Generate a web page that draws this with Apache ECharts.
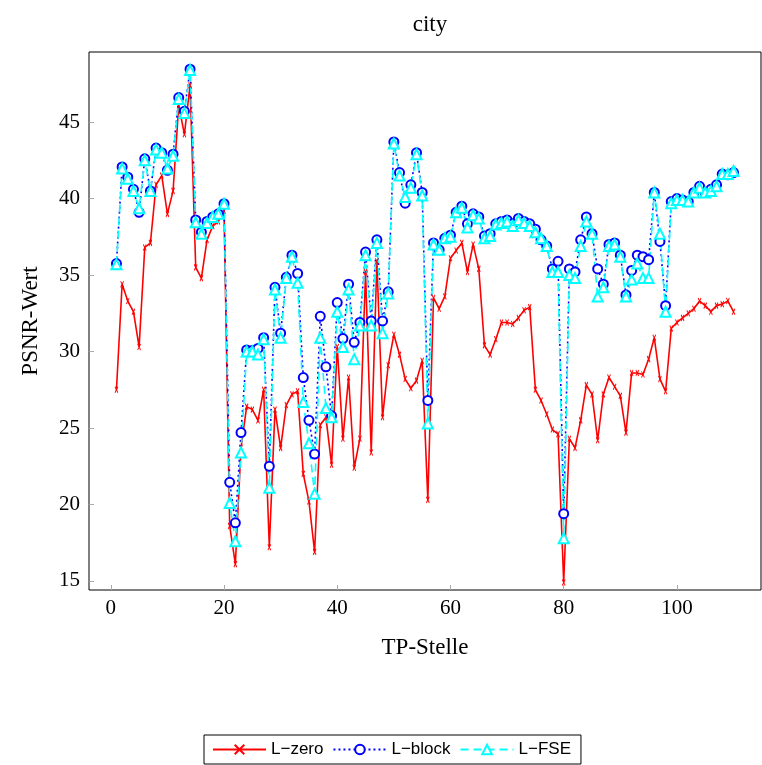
<!DOCTYPE html>
<html lang="de">
<head>
    <meta charset="UTF-8">
    <title>city</title>
    <script src="https://cdn.jsdelivr.net/npm/echarts@6.0.0/dist/echarts.min.js"></script>
    <style>
        html,body{margin:0;padding:0;background:#fff}
        #main{width:762px;height:765px}
    </style>
</head>
<body>
<div id="main"></div>
<script>
    // TP-Stelle 1..110
    var lZero = [27.5,34.4,33.3,32.6,30.3,36.8,37.1,40.9,41.5,39.0,
        40.5,46.1,44.2,47.4,35.5,34.8,37.3,38.2,38.5,39.2,
        18.6,16.1,23.7,26.4,26.2,25.5,27.5,17.2,26.2,23.7,
        26.5,27.2,27.4,22.0,20.2,16.9,25.2,25.7,22.6,30.3,
        24.3,28.3,22.4,24.3,35.2,23.4,35.9,25.7,29.1,31.1,
        29.8,28.2,27.6,28.1,29.4,20.3,33.5,32.8,33.6,36.1,
        36.6,37.1,35.2,37.0,35.4,30.4,29.8,30.8,31.9,31.9,
        31.8,32.2,32.7,32.9,27.5,26.8,25.9,24.9,24.6,14.9,
        24.3,23.7,25.5,27.8,27.2,24.2,27.2,28.3,27.7,27.1,
        24.7,28.6,28.6,28.5,29.5,30.9,28.2,27.4,31.5,31.9,
        32.2,32.5,32.8,33.3,33.0,32.6,33.0,33.1,33.3,32.6];
    var lBlock = [35.75,42.07,41.4,40.6,39.1,42.6,40.5,43.3,43.0,41.85,
        42.9,46.6,45.7,48.46,38.6,37.8,38.5,38.8,39.0,39.66,
        21.45,18.8,24.7,30.1,30.06,30.2,30.9,22.5,34.2,31.2,
        34.85,36.3,35.1,28.3,25.5,23.3,32.3,29.0,25.8,33.2,
        30.85,34.4,30.6,31.9,36.5,32.0,37.3,32.0,33.9,43.7,
        41.7,39.7,40.9,43.0,40.4,26.8,37.1,36.65,37.4,37.6,
        39.1,39.5,38.35,39.0,38.8,37.55,37.7,38.35,38.5,38.6,
        38.35,38.7,38.5,38.35,38.0,37.3,36.9,35.4,35.9,19.4,
        35.4,35.2,37.3,38.8,37.7,35.4,34.4,37.0,37.1,36.3,
        33.7,35.3,36.3,36.2,36.0,40.4,37.2,33.0,39.8,40.0,
        39.9,39.8,40.4,40.8,40.4,40.6,40.9,41.6,41.55,41.7];
    var lFSE = [35.7,41.96,41.3,40.5,39.36,42.5,40.5,43.2,43.0,41.96,
        42.8,46.5,45.6,48.4,38.45,37.7,38.4,38.8,39.0,39.66,
        20.1,17.6,23.4,30.0,30.0,29.8,30.8,21.1,34.05,30.9,
        34.8,36.2,34.5,26.7,24.0,20.7,30.9,26.3,25.7,32.6,
        30.3,34.05,29.5,31.7,36.3,31.7,37.1,31.2,33.8,43.6,
        41.5,40.1,40.7,42.9,40.2,25.3,37.0,36.65,37.4,37.5,
        39.1,39.4,38.1,38.9,38.7,37.4,37.55,38.3,38.4,38.5,
        38.2,38.6,38.4,38.2,37.8,37.4,36.9,35.2,35.2,17.8,
        35.0,34.8,36.9,38.5,37.7,33.6,34.2,36.9,37.0,36.2,
        33.6,34.7,35.75,34.8,34.8,40.4,37.7,32.6,39.7,39.9,
        39.9,39.8,40.4,40.7,40.4,40.5,40.8,41.6,41.6,41.8];
    var xTicks = [0,20,40,60,80,100];
    var yTicks = [15,20,25,30,35,40,45];

    function pairs(arr){
        var out = [];
        for (var i = 0; i < arr.length; i++) out.push([i + 1, arr[i]]);
        return out;
    }

    var serif = 'Liberation Serif';
    var myChart = echarts.init(document.getElementById('main'));
    myChart.setOption({
        animation: false,
        title: {
            text: 'city', left: 425, top: 8, textAlign: 'center',
            textStyle: {fontFamily: serif, fontSize: 23, fontWeight: 'normal', color: '#000'}
        },
        legend: {
            bottom: 1, left: 204,
            borderColor: '#000', borderWidth: 1, padding: [6, 10, 6, 8],
            itemWidth: 53, itemHeight: 12, itemGap: 9,
            textStyle: {fontFamily: 'Liberation Sans', fontSize: 17, color: '#000'},
            data: ['L\u2212zero', 'L\u2212block', 'L\u2212FSE']
        },
        grid: {
            left: 89, right: 1, top: 52, bottom: 175,
            show: true, borderColor: '#000', borderWidth: 1
        },
        xAxis: {
            type: 'value', min: -3.85, max: 114.85,
            name: 'TP-Stelle', nameLocation: 'middle', nameGap: 46,
            nameTextStyle: {fontFamily: serif, fontSize: 23, color: '#000'},
            axisLine: {show: false, onZero: false},
            axisTick: {inside: true, length: 5, lineStyle: {color: '#aaa'}, customValues: xTicks},
            axisLabel: {fontFamily: serif, fontSize: 21, color: '#000', margin: 8, customValues: xTicks},
            splitLine: {show: false}
        },
        yAxis: {
            type: 'value', min: 14.41, max: 49.58,
            name: 'PSNR-Wert', nameLocation: 'middle', nameGap: 47, nameRotate: 90,
            nameTextStyle: {fontFamily: serif, fontSize: 23, color: '#000'},
            axisLine: {show: false, onZero: false},
            axisTick: {inside: true, length: 5, lineStyle: {color: '#aaa'}, customValues: yTicks},
            axisLabel: {fontFamily: serif, fontSize: 21, color: '#000', margin: 9, customValues: yTicks},
            splitLine: {show: false}
        },
        series: [
            {
                name: 'L\u2212zero', type: 'line', data: pairs(lZero),
                symbol: 'path://M0,0L2,8M2,0L0,8', symbolSize: [3, 6],
                itemStyle: {color: '#ff0000', borderColor: '#ff0000', borderWidth: 1.1},
                lineStyle: {color: '#ff0000', width: 1.6}
            },
            {
                name: 'L\u2212block', type: 'line', data: pairs(lBlock),
                symbol: 'emptyCircle', symbolSize: 9,
                itemStyle: {color: '#0000ff', borderColor: '#0000ff', borderWidth: 1},
                lineStyle: {color: '#0000ff', width: 1.6, type: [2, 3]}
            },
            {
                name: 'L\u2212FSE', type: 'line', data: pairs(lFSE),
                symbol: 'emptyTriangle', symbolSize: 10,
                itemStyle: {color: '#00ffff', borderColor: '#00ffff', borderWidth: 1},
                lineStyle: {color: '#00ffff', width: 1.6, type: [8, 5]}
            }
        ]
    });
</script>
</body>
</html>
